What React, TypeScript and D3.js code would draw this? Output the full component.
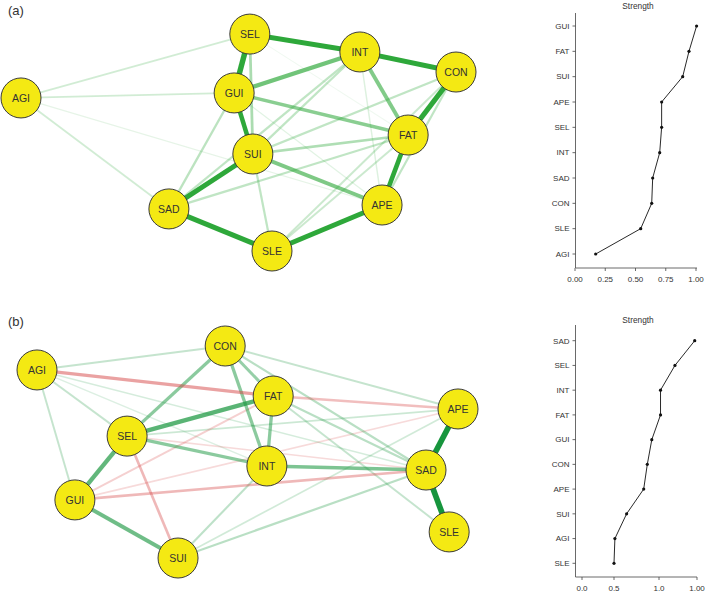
import React from "react";
import * as d3 from "d3";

// ---------- Panel (a) network ----------
const nodesA = ["AGI", "SEL", "GUI", "SUI", "SAD", "SLE", "INT", "CON", "FAT", "APE"];
const layoutAX = [0, 52.6, 49.0, 53.3, 34.0, 57.7, 77.9, 100, 89.0, 83.0];
const layoutAY = [29.8, 0.5, 27.5, 55.5, 80.7, 100, 8.7, 17.9, 46.8, 78.9];
const edgesA: [string, string, number][] = [
  ["SEL", "GUI", 0.9],
  ["SEL", "INT", 0.8],
  ["INT", "CON", 0.8],
  ["FAT", "CON", 0.85],
  ["FAT", "APE", 0.75],
  ["APE", "SLE", 0.8],
  ["SAD", "SLE", 0.82],
  ["SAD", "SUI", 0.8],
  ["GUI", "SUI", 0.72],
  ["GUI", "INT", 0.68],
  ["GUI", "FAT", 0.56],
  ["INT", "FAT", 0.6],
  ["SUI", "APE", 0.62],
  ["SEL", "SUI", 0.4],
  ["GUI", "SAD", 0.32],
  ["SUI", "FAT", 0.38],
  ["SUI", "INT", 0.3],
  ["SAD", "INT", 0.3],
  ["SAD", "FAT", 0.3],
  ["SUI", "CON", 0.3],
  ["SLE", "FAT", 0.25],
  ["SLE", "CON", 0.25],
  ["APE", "CON", 0.3],
  ["SUI", "SLE", 0.3],
  ["AGI", "SEL", 0.22],
  ["AGI", "GUI", 0.22],
  ["AGI", "SAD", 0.22],
  ["AGI", "APE", 0.12],
  ["INT", "APE", 0.16],
  ["GUI", "APE", 0.14],
  ["SEL", "FAT", 0.08],
];

// ---------- Panel (b) network ----------
const nodesB = ["AGI", "CON", "FAT", "SEL", "INT", "GUI", "SUI", "APE", "SAD", "SLE"];
const layoutBX = [0, 44.7, 56.1, 21.4, 54.6, 9.0, 33.5, 100, 92.4, 97.9];
const layoutBY = [11.3, 0, 23.6, 42.5, 56.6, 72.6, 100, 29.7, 58.5, 87.7];
const edgesB: [string, string, number][] = [
  ["APE", "SAD", 0.95],
  ["SAD", "SLE", 0.95],
  ["SEL", "FAT", 0.71],
  ["SEL", "GUI", 0.68],
  ["GUI", "SUI", 0.62],
  ["SEL", "CON", 0.5],
  ["CON", "INT", 0.5],
  ["FAT", "INT", 0.5],
  ["SEL", "INT", 0.5],
  ["INT", "SAD", 0.56],
  ["CON", "FAT", 0.45],
  ["CON", "SAD", 0.3],
  ["CON", "APE", 0.25],
  ["FAT", "SAD", 0.3],
  ["FAT", "SLE", 0.25],
  ["AGI", "CON", 0.25],
  ["AGI", "SEL", 0.25],
  ["AGI", "GUI", 0.25],
  ["AGI", "SAD", 0.18],
  ["AGI", "INT", 0.15],
  ["SEL", "APE", 0.22],
  ["INT", "SUI", 0.28],
  ["SUI", "SAD", 0.3],
  ["SUI", "APE", 0.2],
  ["AGI", "FAT", -0.5],
  ["FAT", "APE", -0.35],
  ["GUI", "FAT", -0.25],
  ["GUI", "SAD", -0.38],
  ["GUI", "APE", -0.2],
  ["SEL", "SUI", -0.38],
  ["SEL", "SAD", -0.2],
];

// ---------- Strength plots ----------
const strengthCatsA = ["GUI", "FAT", "SUI", "APE", "SEL", "INT", "SAD", "CON", "SLE", "AGI"];
const strengthValsA = [1.005, 0.942, 0.89, 0.716, 0.716, 0.7, 0.642, 0.634, 0.543, 0.171];
const strengthTicksA = [0, 0.25, 0.5, 0.75, 1.0];
const strengthTickLabelsA = ["0.00", "0.25", "0.50", "0.75", "1.00"];

const strengthCatsB = ["SAD", "SEL", "INT", "FAT", "GUI", "CON", "APE", "SUI", "AGI", "SLE"];
const strengthValsB = [1.47, 1.21, 1.02, 1.02, 0.92, 0.87, 0.83, 0.64, 0.51, 0.5];
const strengthTicksB = [0, 0.5, 1.0, 1.5];
const strengthTickLabelsB = ["0.0", "0.5", "1.0", "1.00"];

const FONT = "'Liberation Sans', Arial, Helvetica, sans-serif";
const CUT = 0.72;

function Network(props: {
  nodes: string[];
  lx: number[];
  ly: number[];
  edges: [string, string, number][];
  xr: [number, number];
  yr: [number, number];
  pos: string;
  neg: string;
}) {
  const { nodes, lx, ly, edges, xr, yr, pos, neg } = props;
  const x = d3.scaleLinear().domain([0, 100]).range(xr);
  const y = d3.scaleLinear().domain([0, 100]).range(yr);
  const width = d3.scaleLinear().domain([0, 1]).range([0.6, 6.0]);
  const idx = (n: string) => nodes.indexOf(n);
  const sorted = [...edges].sort((a, b) => Math.abs(a[2]) - Math.abs(b[2]));
  return (
    <g>
      {sorted.map(([a, b, w], i) => {
        const ia = idx(a), ib = idx(b);
        const aw = Math.abs(w);
        const op = aw >= CUT ? 1 : 0.72 * (aw / CUT);
        return (
          <line
            key={i}
            x1={x(lx[ia])}
            y1={y(ly[ia])}
            x2={x(lx[ib])}
            y2={y(ly[ib])}
            stroke={w > 0 ? pos : neg}
            strokeOpacity={op}
            strokeWidth={width(aw)}
          />
        );
      })}
      {nodes.map((n, i) => (
        <g key={n} transform={`translate(${x(lx[i])},${y(ly[i])})`}>
          <circle r={20} fill="#f4e913" stroke="#3a3a3a" strokeWidth={1} />
          <text
            textAnchor="middle"
            dy="0.36em"
            fontSize={10.5}
            fontFamily={FONT}
            fill="#333"
          >
            {n}
          </text>
        </g>
      ))}
    </g>
  );
}

function StrengthPlot(props: {
  cats: string[];
  vals: number[];
  ticks: number[];
  tickLabels: string[];
  xDomain: number[];
  xRange: number[];
  yr: [number, number];
  axisTop: number;
  axisBottom: number;
  titleY: number;
}) {
  const { cats, vals, ticks, tickLabels, xDomain, xRange, yr, axisTop, axisBottom, titleY } = props;
  const x = d3.scaleLinear().domain(xDomain).range(xRange);
  const y = d3.scalePoint<string>().domain(cats).range(yr);
  const axisX = 575.5;
  const line = d3
    .line<number>()
    .x((v) => x(v))
    .y((_, i) => y(cats[i]) as number);
  return (
    <g fontFamily={FONT}>
      <text x={638} y={titleY} textAnchor="middle" fontSize={8.3} fill="#333">
        Strength
      </text>
      <line x1={axisX} x2={axisX} y1={axisTop} y2={axisBottom} stroke="#444" strokeWidth={0.8} />
      <line x1={axisX} x2={697} y1={axisBottom} y2={axisBottom} stroke="#444" strokeWidth={0.8} />
      {cats.map((c) => (
        <g key={c}>
          <line x1={axisX - 3} x2={axisX} y1={y(c)} y2={y(c)} stroke="#444" strokeWidth={0.8} />
          <text x={axisX - 6} y={y(c)} dy="0.35em" textAnchor="end" fontSize={8} fill="#333">
            {c}
          </text>
        </g>
      ))}
      {ticks.map((t, i) => (
        <g key={i}>
          <line x1={x(t)} x2={x(t)} y1={axisBottom} y2={axisBottom + 3} stroke="#444" strokeWidth={0.8} />
          <text x={x(t)} y={axisBottom + 13.5} textAnchor="middle" fontSize={8} fill="#333">
            {tickLabels[i]}
          </text>
        </g>
      ))}
      <path d={line(vals) || ""} fill="none" stroke="#111" strokeWidth={0.9} />
      {vals.map((v, i) => (
        <circle key={i} cx={x(v)} cy={y(cats[i])} r={1.6} fill="#111" />
      ))}
    </g>
  );
}

export default function App() {
  return (
    <svg
      width={709}
      height={592}
      style={{ position: "absolute", left: 0, top: 0, background: "#fff" }}
    >
      <rect width={709} height={592} fill="#fff" />
      <text x={8} y={15} fontSize={13} fontFamily={FONT} fill="#333">
        (a)
      </text>
      <text x={8} y={326} fontSize={13} fontFamily={FONT} fill="#333">
        (b)
      </text>
      <Network
        nodes={nodesA}
        lx={layoutAX}
        ly={layoutAY}
        edges={edgesA}
        xr={[21, 456]}
        yr={[33, 251]}
        pos="#2ea83a"
        neg="#d23c3c"
      />
      <Network
        nodes={nodesB}
        lx={layoutBX}
        ly={layoutBY}
        edges={edgesB}
        xr={[37, 458]}
        yr={[346, 558]}
        pos="#17953d"
        neg="#d64545"
      />
      <StrengthPlot
        cats={strengthCatsA}
        vals={strengthValsA}
        ticks={strengthTicksA}
        tickLabels={strengthTickLabelsA}
        xDomain={[0, 1]}
        xRange={[575, 696]}
        yr={[26, 254]}
        axisTop={13}
        axisBottom={268}
        titleY={9}
      />
      <StrengthPlot
        cats={strengthCatsB}
        vals={strengthValsB}
        ticks={strengthTicksB}
        tickLabels={strengthTickLabelsB}
        xDomain={[0, 0.5, 1.0, 1.5]}
        xRange={[582, 614, 659, 697]}
        yr={[340.7, 563.3]}
        axisTop={325}
        axisBottom={577}
        titleY={323}
      />
    </svg>
  );
}
